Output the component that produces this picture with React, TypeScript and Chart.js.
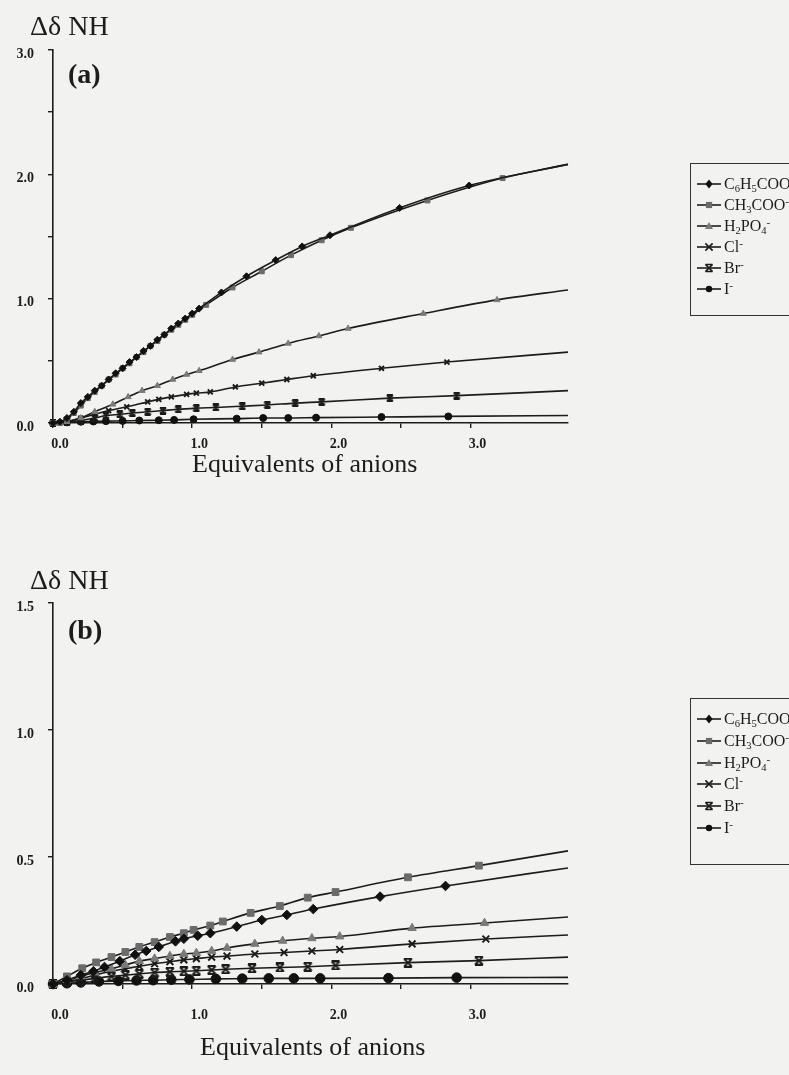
import React, { useEffect, useRef } from 'react';
import { Chart, registerables } from 'chart.js';

Chart.register(...registerables);

// ---------- shared ----------
const seriesLabels = ['C_6H_5COO^-', 'CH_3COO^-', 'H_2PO_4^-', 'Cl^-', 'Br^-', 'I^-'];
const seriesStyles = ['rectRot', 'rect', 'triangle', 'crossRot', 'hourglass', 'circle'];
const seriesColors = ['#111111', '#6b6b6b', '#7a7a7a', '#1a1a1a', '#1a1a1a', '#111111'];
const xTitle = 'Equivalents of anions';
const yTitle = 'Δδ NH';

// ---------- chart (a) ----------
const aBenzX = [0, 0.05, 0.1, 0.15, 0.2, 0.25, 0.3, 0.35, 0.4, 0.45, 0.5, 0.55, 0.6, 0.65, 0.7, 0.75, 0.8, 0.85, 0.9, 0.95, 1.0, 1.05, 1.21, 1.39, 1.6, 1.79, 1.99, 2.49, 2.99, 3.7];
const aBenzY = [0, 0.01, 0.04, 0.09, 0.16, 0.21, 0.26, 0.3, 0.35, 0.4, 0.44, 0.49, 0.53, 0.58, 0.62, 0.67, 0.71, 0.76, 0.8, 0.84, 0.88, 0.92, 1.05, 1.18, 1.31, 1.42, 1.51, 1.73, 1.91, 2.08];
const aAcetX = [0, 0.05, 0.1, 0.15, 0.2, 0.25, 0.3, 0.35, 0.4, 0.45, 0.5, 0.55, 0.6, 0.65, 0.7, 0.75, 0.8, 0.85, 0.9, 0.95, 1.0, 1.1, 1.29, 1.5, 1.71, 1.93, 2.14, 2.69, 3.23, 3.7];
const aAcetY = [0, 0.0, 0.03, 0.08, 0.14, 0.2, 0.25, 0.3, 0.35, 0.39, 0.44, 0.48, 0.53, 0.57, 0.62, 0.66, 0.71, 0.75, 0.79, 0.83, 0.87, 0.95, 1.09, 1.22, 1.35, 1.47, 1.57, 1.79, 1.97, 2.08];
const aPhosX = [0, 0.1, 0.2, 0.3, 0.43, 0.54, 0.64, 0.75, 0.86, 0.96, 1.05, 1.29, 1.48, 1.69, 1.91, 2.12, 2.66, 3.19, 3.7];
const aPhosY = [0, 0.01, 0.04, 0.09, 0.15, 0.21, 0.26, 0.3, 0.35, 0.39, 0.42, 0.51, 0.57, 0.64, 0.7, 0.76, 0.88, 0.99, 1.07];
const aClX = [0, 0.1, 0.2, 0.3, 0.4, 0.53, 0.68, 0.76, 0.85, 0.96, 1.03, 1.13, 1.31, 1.5, 1.68, 1.87, 2.36, 2.83, 3.7];
const aClY = [0, 0.01, 0.04, 0.07, 0.1, 0.13, 0.17, 0.19, 0.21, 0.23, 0.24, 0.25, 0.29, 0.32, 0.35, 0.38, 0.44, 0.49, 0.57];
const aBrX = [0, 0.1, 0.2, 0.3, 0.38, 0.48, 0.57, 0.68, 0.79, 0.9, 1.03, 1.17, 1.36, 1.54, 1.74, 1.93, 2.42, 2.9, 3.7];
const aBrY = [0, 0.01, 0.02, 0.04, 0.06, 0.07, 0.08, 0.09, 0.1, 0.11, 0.12, 0.125, 0.135, 0.145, 0.16, 0.17, 0.2, 0.22, 0.26];
const aIX = [0, 0.1, 0.2, 0.29, 0.38, 0.5, 0.62, 0.76, 0.87, 1.01, 1.32, 1.51, 1.69, 1.89, 2.36, 2.84, 3.7];
const aIY = [0, 0.005, 0.01, 0.012, 0.015, 0.017, 0.02, 0.022, 0.025, 0.03, 0.035, 0.04, 0.04, 0.043, 0.048, 0.053, 0.06];

// ---------- chart (b) ----------
const bBenzX = [0, 0.1, 0.2, 0.29, 0.37, 0.48, 0.59, 0.67, 0.76, 0.88, 0.94, 1.04, 1.13, 1.32, 1.5, 1.68, 1.87, 2.35, 2.82, 3.7];
const bBenzY = [0, 0.015, 0.035, 0.05, 0.067, 0.09, 0.115, 0.13, 0.146, 0.168, 0.178, 0.19, 0.2, 0.226, 0.252, 0.272, 0.295, 0.344, 0.386, 0.457];
const bAcetX = [0, 0.1, 0.21, 0.31, 0.42, 0.52, 0.62, 0.73, 0.84, 0.94, 1.01, 1.13, 1.22, 1.42, 1.63, 1.83, 2.03, 2.55, 3.06, 3.7];
const bAcetY = [0, 0.03, 0.062, 0.085, 0.106, 0.126, 0.146, 0.165, 0.185, 0.2, 0.213, 0.23, 0.246, 0.28, 0.307, 0.34, 0.362, 0.42, 0.466, 0.524];
const bPhosX = [0, 0.1, 0.2, 0.3, 0.42, 0.52, 0.62, 0.73, 0.84, 0.94, 1.03, 1.14, 1.25, 1.45, 1.65, 1.86, 2.06, 2.58, 3.1, 3.7];
const bPhosY = [0, 0.015, 0.03, 0.045, 0.06, 0.075, 0.09, 0.1, 0.11, 0.118, 0.122, 0.13, 0.142, 0.158, 0.17, 0.18, 0.187, 0.22, 0.24, 0.264];
const bClX = [0, 0.1, 0.2, 0.3, 0.42, 0.52, 0.62, 0.73, 0.84, 0.94, 1.03, 1.14, 1.25, 1.45, 1.66, 1.86, 2.06, 2.58, 3.11, 3.7];
const bClY = [0, 0.01, 0.02, 0.035, 0.05, 0.06, 0.07, 0.08, 0.088, 0.095, 0.1, 0.106, 0.11, 0.118, 0.124, 0.13, 0.136, 0.158, 0.177, 0.193];
const bBrX = [0, 0.1, 0.2, 0.3, 0.42, 0.52, 0.62, 0.73, 0.84, 0.94, 1.03, 1.14, 1.24, 1.43, 1.63, 1.83, 2.03, 2.55, 3.06, 3.7];
const bBrY = [0, 0.008, 0.015, 0.022, 0.03, 0.035, 0.04, 0.045, 0.048, 0.05, 0.052, 0.055, 0.058, 0.062, 0.065, 0.068, 0.073, 0.084, 0.092, 0.106];
const bIX = [0, 0.1, 0.2, 0.33, 0.47, 0.6, 0.72, 0.85, 0.98, 1.17, 1.36, 1.55, 1.73, 1.92, 2.41, 2.9, 3.7];
const bIY = [0, 0.003, 0.006, 0.01, 0.012, 0.014, 0.015, 0.017, 0.018, 0.02, 0.021, 0.022, 0.022, 0.022, 0.023, 0.025, 0.026];

const aSeriesX = [aBenzX, aAcetX, aPhosX, aClX, aBrX, aIX];
const aSeriesY = [aBenzY, aAcetY, aPhosY, aClY, aBrY, aIY];
const bSeriesX = [bBenzX, bAcetX, bPhosX, bClX, bBrX, bIX];
const bSeriesY = [bBenzY, bAcetY, bPhosY, bClY, bBrY, bIY];

const FONT = "'Liberation Serif', 'Times New Roman', serif";
const BG = '#f2f2f0';
const INK = '#1c1c1c';

function makeHourglass(size: number, color: string) {
  const c = document.createElement('canvas');
  c.width = size;
  c.height = size;
  const g = c.getContext('2d')!;
  g.strokeStyle = color;
  g.lineWidth = 1.8;
  g.beginPath();
  g.moveTo(1, 1); g.lineTo(size - 1, size - 1);
  g.moveTo(size - 1, 1); g.lineTo(1, size - 1);
  g.moveTo(1, 1); g.lineTo(size - 1, 1);
  g.moveTo(1, size - 1); g.lineTo(size - 1, size - 1);
  g.stroke();
  return c;
}

function buildDatasets(xs: number[][], ys: number[][], radius: number, hourglassSize: number) {
  return xs.map((xArr, k) => {
    const n = xArr.length;
    const style = seriesStyles[k];
    const color = seriesColors[k];
    return {
      label: seriesLabels[k],
      data: xArr.map((x, i) => ({ x, y: ys[k][i] })),
      showLine: true,
      borderColor: INK,
      borderWidth: 1.6,
      cubicInterpolationMode: 'monotone',
      pointStyle: style === 'hourglass' ? makeHourglass(hourglassSize, color) : style,
      pointRadius: (ctx: any) => (ctx.dataIndex === n - 1 ? 0 : radius),
      pointBackgroundColor: color,
      pointBorderColor: color,
      pointBorderWidth: style === 'crossRot' ? 1.9 : 1,
      clip: false,
      fill: false,
    };
  });
}

function halfStepFilter(scale: any) {
  scale.ticks = scale.ticks.filter((t: any) => Math.abs(t.value * 2 - Math.round(t.value * 2)) < 1e-6);
}

function makeOptions(cfg: { yMax: number; yLabelAll: boolean; padTop: number; padBottom: number; xPad: number }) {
  const tickFont = { family: FONT, size: 14, weight: 'bold' as const };
  return {
    responsive: false,
    animation: false,
    devicePixelRatio: 1,
    layout: { padding: { top: cfg.padTop, left: 0, right: 221, bottom: cfg.padBottom } },
    plugins: { legend: { display: false }, tooltip: { enabled: false }, title: { display: false } },
    scales: {
      x: {
        type: 'linear',
        min: 0,
        max: 3.7,
        afterBuildTicks: halfStepFilter,
        afterFit: (s: any) => { s.height = 40; },
        border: { display: true, color: INK, width: 1.6 },
        grid: { display: true, drawOnChartArea: false, drawTicks: true, tickLength: 5, color: INK, lineWidth: 1.4 },
        ticks: {
          stepSize: 0.5,
          color: INK,
          font: tickFont,
          padding: cfg.xPad,
          labelOffset: 7,
          maxRotation: 0,
          autoSkip: false,
          callback: (v: any) => {
            const n = Number(v);
            return Math.abs(n - Math.round(n)) < 1e-6 ? n.toFixed(1) : '';
          },
        },
      },
      y: {
        type: 'linear',
        min: 0,
        max: cfg.yMax,
        afterBuildTicks: halfStepFilter,
        afterFit: (s: any) => { s.width = 53; },
        border: { display: true, color: INK, width: 1.6 },
        grid: { display: true, drawOnChartArea: false, drawTicks: true, tickLength: 5, color: INK, lineWidth: 1.4 },
        ticks: {
          stepSize: 0.5,
          color: INK,
          font: tickFont,
          padding: 14,
          labelOffset: 4,
          autoSkip: false,
          callback: (v: any) => {
            const n = Number(v);
            if (cfg.yLabelAll) return n.toFixed(1);
            return Math.abs(n - Math.round(n)) < 1e-6 ? n.toFixed(1) : '';
          },
        },
      },
    },
  };
}

function ChartCanvas(props: { width: number; height: number; top: number; xs: number[][]; ys: number[][]; yMax: number; yLabelAll: boolean; padTop: number; padBottom: number; xPad: number; radius: number; hg: number }) {
  const ref = useRef<HTMLCanvasElement | null>(null);
  useEffect(() => {
    if (!ref.current) return;
    const chart = new Chart(ref.current, {
      type: 'scatter',
      data: { datasets: buildDatasets(props.xs, props.ys, props.radius, props.hg) as any },
      options: makeOptions({ yMax: props.yMax, yLabelAll: props.yLabelAll, padTop: props.padTop, padBottom: props.padBottom, xPad: props.xPad }) as any,
    });
    return () => chart.destroy();
  }, []);
  return (
    <canvas
      ref={ref}
      width={props.width}
      height={props.height}
      style={{ position: 'absolute', left: 0, top: props.top, width: props.width, height: props.height }}
    />
  );
}

function Formula({ text }: { text: string }) {
  const parts: React.ReactNode[] = [];
  let i = 0;
  let buf = '';
  while (i < text.length) {
    const ch = text[i];
    if ((ch === '_' || ch === '^') && i + 1 < text.length) {
      if (buf) { parts.push(buf); buf = ''; }
      const c = text[i + 1];
      if (ch === '_') parts.push(<sub key={i} style={{ fontSize: '0.66em', verticalAlign: '-0.28em', lineHeight: 0 }}>{c}</sub>);
      else parts.push(<sup key={i} style={{ fontSize: '0.7em', verticalAlign: '0.45em', lineHeight: 0 }}>{c}</sup>);
      i += 2;
    } else {
      buf += ch;
      i += 1;
    }
  }
  if (buf) parts.push(buf);
  return <>{parts}</>;
}

function Marker({ style, color }: { style: string; color: string }) {
  const cx = 12, cy = 8, r = 3.6;
  let shape: React.ReactNode = null;
  if (style === 'rectRot') shape = <polygon points={`${cx},${cy - r - 1} ${cx + r},${cy} ${cx},${cy + r + 1} ${cx - r},${cy}`} fill={color} />;
  else if (style === 'rect') shape = <rect x={cx - r + 0.5} y={cy - r + 0.5} width={2 * r - 1} height={2 * r - 1} fill={color} />;
  else if (style === 'triangle') shape = <polygon points={`${cx},${cy - r - 0.5} ${cx + r + 0.5},${cy + r - 0.5} ${cx - r - 0.5},${cy + r - 0.5}`} fill={color} />;
  else if (style === 'crossRot') shape = <path d={`M${cx - r} ${cy - r} L${cx + r} ${cy + r} M${cx + r} ${cy - r} L${cx - r} ${cy + r}`} stroke={color} strokeWidth={1.6} />;
  else if (style === 'hourglass') shape = <path d={`M${cx - r} ${cy - r} L${cx + r} ${cy + r} M${cx + r} ${cy - r} L${cx - r} ${cy + r} M${cx - r} ${cy - r} L${cx + r} ${cy - r} M${cx - r} ${cy + r} L${cx + r} ${cy + r}`} stroke={color} strokeWidth={1.5} fill="none" />;
  else if (style === 'circle') shape = <circle cx={cx} cy={cy} r={r - 0.4} fill={color} />;
  return (
    <svg width={24} height={16} style={{ display: 'block' }}>
      <line x1={0} y1={cy} x2={24} y2={cy} stroke={INK} strokeWidth={1.6} />
      {shape}
    </svg>
  );
}

function Legend({ left, top, height, rowTop, rowGap }: { left: number; top: number; height: number; rowTop: number; rowGap: number }) {
  return (
    <div style={{ position: 'absolute', left, top, width: 120, height, border: '1.5px solid #333', boxSizing: 'border-box' }}>
      {seriesLabels.map((lab, k) => (
        <div key={k} style={{ position: 'absolute', left: 6, top: rowTop + k * rowGap - 8, height: 16, display: 'flex', alignItems: 'center', whiteSpace: 'nowrap' }}>
          <Marker style={seriesStyles[k]} color={seriesColors[k]} />
          <span style={{ marginLeft: 3, fontFamily: FONT, fontSize: 16, color: INK, lineHeight: '16px' }}>
            <Formula text={lab} />
          </span>
        </div>
      ))}
    </div>
  );
}

function Text({ left, top, size, bold, children }: { left: number; top: number; size: number; bold?: boolean; children: React.ReactNode }) {
  return (
    <div style={{ position: 'absolute', left, top, fontFamily: FONT, fontSize: size, fontWeight: bold ? 'bold' : 'normal', lineHeight: 1, color: INK, whiteSpace: 'nowrap' }}>
      {children}
    </div>
  );
}

export default function App() {
  return (
    <div style={{ position: 'absolute', left: 0, top: 0, width: 789, height: 1075, background: BG, overflow: 'hidden' }}>
      <ChartCanvas width={789} height={520} top={0} xs={aSeriesX} ys={aSeriesY} yMax={3} yLabelAll={false} padTop={50} padBottom={57} xPad={8} radius={3.5} hg={8} />
      <ChartCanvas width={789} height={535} top={540} xs={bSeriesX} ys={bSeriesY} yMax={1.5} yLabelAll={true} padTop={63} padBottom={51} xPad={18} radius={4.8} hg={10} />

      <Text left={30} top={12} size={28}>{yTitle}</Text>
      <Text left={68} top={60} size={28} bold>(a)</Text>
      <Text left={192} top={451} size={26}>{xTitle}</Text>
      <Legend left={690} top={163} height={153} rowTop={20} rowGap={21} />

      <Text left={30} top={566} size={28}>{yTitle}</Text>
      <Text left={68} top={616} size={28} bold>(b)</Text>
      <Text left={200} top={1034} size={26}>{xTitle}</Text>
      <Legend left={690} top={698} height={167} rowTop={20} rowGap={21.8} />
    </div>
  );
}
